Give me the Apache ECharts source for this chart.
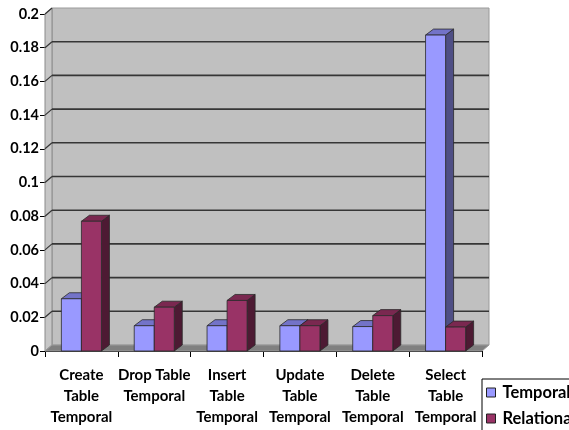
<!DOCTYPE html>
<html>
<head>
<meta charset="utf-8">
<script src="https://cdn.jsdelivr.net/npm/echarts@6/dist/echarts.min.js"></script>
<style>html,body{margin:0;padding:0;background:#fff;overflow:hidden;}#c{width:620px;height:470px;}</style>
</head>
<body>
<div id="c"></div>
<script>
const categories = ["Create\nTable\nTemporal", "Drop Table\nTemporal", "Insert\nTable\nTemporal", "Update\nTable\nTemporal", "Delete\nTable\nTemporal", "Select\nTable\nTemporal"];
const temporal = [0.031, 0.015, 0.015, 0.015, 0.0145, 0.1875];
const relational = [0.077, 0.026, 0.030, 0.015, 0.021, 0.0142];
const yTicks = [0, 0.02, 0.04, 0.06, 0.08, 0.1, 0.12, 0.14, 0.16, 0.18, 0.2];

const DX = 7, DY = -6;
const BAR_FRAC = 0.275;
const FONT = 'Lato';
const CONTAINER_W = 620;
const CONTAINER_H = 470;

const chart = echarts.init(document.getElementById('c'), null, {renderer: 'canvas'});

function wallsRender(params, api) {
  const cs = params.coordSys;
  const x = cs.x, y = cs.y, w = cs.width, h = cs.height;
  const children = [];
  children.push({type: 'rect', shape: {x: x + DX, y: y + DY, width: w, height: h},
    style: {fill: '#C0C0C0', stroke: '#9a9a9a', lineWidth: 1}});
  children.push({type: 'polygon', shape: {points: [[x, y], [x + DX, y + DY], [x + DX, y + h + DY], [x, y + h]]},
    style: {fill: '#c6c6c6', stroke: '#8a8a8a', lineWidth: 1}});
  children.push({type: 'polygon', shape: {points: [[x, y + h], [x + w, y + h], [x + w + DX, y + h + DY], [x + DX, y + h + DY]]},
    style: {fill: '#808080', stroke: '#9a9a9a', lineWidth: 1}});
  yTicks.forEach(function (v) {
    if (v <= 0) return;
    const py = api.coord([0, v])[1];
    if (v < yTicks[yTicks.length - 1]) {
      children.push({type: 'line', shape: {x1: x + DX, y1: py + DY, x2: x + w + DX, y2: py + DY},
        style: {stroke: '#363636', lineWidth: 1.6}});
    }
    children.push({type: 'line', shape: {x1: x, y1: py, x2: x + DX, y2: py + DY},
      style: {stroke: '#363636', lineWidth: 1.2}});
  });
  return {type: 'group', children: children};
}

function makeBarRender(side, front, top, sideCol) {
  return function (params, api) {
    const i = api.value(0);
    const v = api.value(1);
    const p = api.coord([i, v]);
    const base = api.coord([i, 0]);
    const bw = api.size([1, 0])[0] * BAR_FRAC;
    const x0 = side === 0 ? p[0] - bw : p[0];
    const x1 = x0 + bw;
    const y0 = p[1], yb = base[1];
    const st = '#2a2a2a';
    return {type: 'group', children: [
      {type: 'polygon', shape: {points: [[x1, y0], [x1 + DX + 1, y0 + DY], [x1 + DX + 1, yb + DY], [x1, yb]]},
        style: {fill: sideCol, stroke: st, lineWidth: 0.8}},
      {type: 'polygon', shape: {points: [[x0, y0], [x1, y0], [x1 + DX + 1, y0 + DY], [x0 + DX + 1, y0 + DY]]},
        style: {fill: top, stroke: st, lineWidth: 0.8}},
      {type: 'rect', shape: {x: x0, y: y0, width: bw, height: yb - y0},
        style: {fill: front, stroke: st, lineWidth: 0.8}}
    ]};
  };
}

const option = {
  animation: false,
  backgroundColor: '#ffffff',
  grid: {left: 45, right: CONTAINER_W - 482, top: 14, bottom: CONTAINER_H - 351, containLabel: false},
  legend: {
    data: ['Temporal', 'Relational'],
    orient: 'vertical',
    left: 482, top: 379,
    padding: [5, 12, 5, 4],
    borderColor: '#000', borderWidth: 1,
    itemWidth: 9, itemHeight: 9, itemGap: 9,
    icon: 'rect',
    textStyle: {fontFamily: FONT, fontWeight: 'bold', fontSize: 16.5, color: '#000', lineHeight: 16, padding: [0, 0, 0, 2]},
    itemStyle: {borderColor: '#222', borderWidth: 1}
  },
  xAxis: {
    type: 'category', data: categories,
    axisLine: {show: true, lineStyle: {color: '#000', width: 1}},
    axisTick: {show: true, length: 6, lineStyle: {color: '#000'}},
    axisLabel: {interval: 0, fontFamily: FONT, fontWeight: 'bold', fontSize: 15, lineHeight: 21, color: '#000', margin: 14},
    splitLine: {show: false}
  },
  yAxis: {
    type: 'value', min: 0, max: 0.2, interval: 0.02,
    axisLine: {show: true, lineStyle: {color: '#000', width: 1}},
    axisTick: {show: true, length: 5, lineStyle: {color: '#000'}},
    axisLabel: {fontFamily: FONT, fontWeight: 'bold', fontSize: 14.5, color: '#000', margin: 6,
      formatter: function (v) { return String(+v.toFixed(2)); }},
    splitLine: {show: false}
  },
  series: [
    {type: 'custom', name: 'walls', silent: true, renderItem: wallsRender, data: [[0, 0]], z: 1},
    {type: 'custom', name: 'Temporal', renderItem: makeBarRender(0, '#9999FF', '#7373c8', '#4f4f85'),
      itemStyle: {color: '#9999FF'}, data: temporal.map(function (v, i) { return [i, v]; }), z: 2},
    {type: 'custom', name: 'Relational', renderItem: makeBarRender(1, '#993366', '#7a2850', '#4d1a33'),
      itemStyle: {color: '#993366'}, data: relational.map(function (v, i) { return [i, v]; }), z: 3}
  ]
};
chart.setOption(option);
</script>
</body>
</html>
